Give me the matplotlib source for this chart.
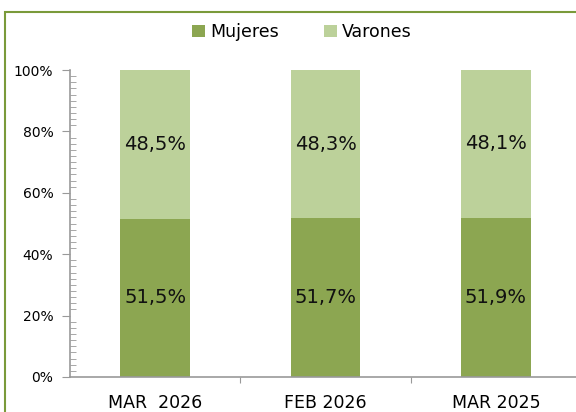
import matplotlib
matplotlib.use("Agg")
import matplotlib.pyplot as plt
from matplotlib.patches import Rectangle
from matplotlib.ticker import MultipleLocator, PercentFormatter

categories = ["MAR  2026", "FEB 2026", "MAR 2025"]
mujeres = [51.5, 51.7, 51.9]
varones = [48.5, 48.3, 48.1]
mujeres_labels = ["51,5%", "51,7%", "51,9%"]
varones_labels = ["48,5%", "48,3%", "48,1%"]

c_muj = "#8CA651"
c_var = "#BCD19A"

fig = plt.figure(figsize=(5.76, 4.12), dpi=100)
fig.patch.set_facecolor("white")
# outer border (clipped at right/bottom)
fig.add_artist(Rectangle((5/576, -0.1), 1.2, 1 - 12/412 + 0.1, transform=fig.transFigure,
                         fill=False, edgecolor="#7A9A3A", linewidth=1.5))

ax = fig.add_axes([70/576, 35/412, 1 - 70/576, (377-70)/412])
x = list(range(len(categories)))
w = 0.41
ax.bar(x, mujeres, width=w, color=c_muj, label="Mujeres", zorder=2)
ax.bar(x, varones, width=w, bottom=mujeres, color=c_var, label="Varones", zorder=2)

for i in x:
    ax.text(i, mujeres[i] / 2, mujeres_labels[i], ha="center", va="center", fontsize=14, color="#111111")
    ax.text(i, mujeres[i] + varones[i] / 2, varones_labels[i], ha="center", va="center", fontsize=14, color="#111111")

ax.set_xlim(-0.5, 2.47)
ax.set_ylim(0, 100)
ax.yaxis.set_major_locator(MultipleLocator(20))
ax.yaxis.set_minor_locator(MultipleLocator(2))
ax.yaxis.set_major_formatter(PercentFormatter(decimals=0))
ax.tick_params(axis="y", which="major", direction="out", length=6, color="#999999", labelsize=10, pad=6)
ax.tick_params(axis="y", which="minor", direction="in", length=4, color="#999999")

ax.set_xticks([0.5, 1.5])
ax.set_xticks(x, minor=True)
ax.set_xticklabels(categories, minor=True, fontsize=12.5)
ax.set_xticklabels(["", ""])
ax.tick_params(axis="x", which="major", direction="out", length=4, color="#999999")
ax.tick_params(axis="x", which="minor", length=0, pad=12)

for s in ["top", "right"]:
    ax.spines[s].set_visible(False)
for s in ["left", "bottom"]:
    ax.spines[s].set_color("#999999")
    ax.spines[s].set_linewidth(1.2)

fig.legend(handles=ax.patches[:1] + ax.patches[3:4], labels=["Mujeres", "Varones"],
           loc="center", bbox_to_anchor=(302/576, 1 - 32/412), ncol=2, frameon=False,
           fontsize=12.5, handlelength=0.75, handleheight=0.75, columnspacing=2.6, handletextpad=0.3)

fig.savefig("out.png", dpi=100)
